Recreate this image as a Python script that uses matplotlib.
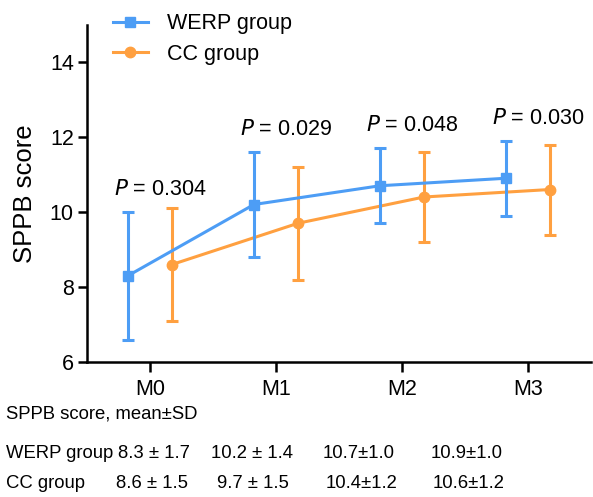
import matplotlib
matplotlib.use("Agg")
import matplotlib.pyplot as plt
import numpy as np
from matplotlib.lines import Line2D

plt.rcParams['font.family'] = ['Liberation Sans', 'DejaVu Sans']

categories = ["M0", "M1", "M2", "M3"]
werp_mean = [8.3, 10.2, 10.7, 10.9]
werp_sd = [1.7, 1.4, 1.0, 1.0]
cc_mean = [8.6, 9.7, 10.4, 10.6]
cc_sd = [1.5, 1.5, 1.2, 1.2]
p_values = ["0.304", "0.029", "0.048", "0.030"]
p_y = [10.6, 12.2, 12.3, 12.5]
werp_labels = ["8.3 ± 1.7", "10.2 ± 1.4", "10.7±1.0", "10.9±1.0"]
cc_labels = ["8.6 ± 1.5", "9.7 ± 1.5", "10.4±1.2", "10.6±1.2"]

blue = "#4D9DF5"
orange = "#FFA040"

fig = plt.figure(figsize=(5.93, 4.97), dpi=100)
ax = fig.add_axes([87/593, 1-362/497, (591-87)/593, (362-24.5)/497])

x = np.arange(len(categories))
off = 0.175
ax.errorbar(x - off, werp_mean, yerr=werp_sd, color=blue, marker='s', markersize=7.5,
            lw=2.2, elinewidth=2.2, capsize=4.2, capthick=2.2, zorder=3)
ax.errorbar(x + off, cc_mean, yerr=cc_sd, color=orange, marker='o', markersize=7.5,
            lw=2.2, elinewidth=2.2, capsize=4.2, capthick=2.2, zorder=2)

for i, (p, py) in enumerate(zip(p_values, p_y)):
    ax.text(i + 0.08, py, r"$\it{P}$" + " = " + p, ha='center', va='center', fontsize=15.5)

ax.set_xlim(-0.5, 3.5)
ax.set_ylim(6, 15)
ax.set_yticks([6, 8, 10, 12, 14])
ax.set_xticks(x)
ax.set_xticklabels(categories)
ax.tick_params(axis='y', labelsize=15.5, width=1.8, length=6.5, pad=3, direction='out')
ax.tick_params(axis='x', labelsize=15.5, width=1.8, length=7, pad=5.5, direction='out')
for s in ['top', 'right']:
    ax.spines[s].set_visible(False)
for s in ['left', 'bottom']:
    ax.spines[s].set_linewidth(1.8)
ax.set_ylabel("SPPB score", fontsize=18.5)
ax.yaxis.set_label_coords(-0.1, 0.5)

handles = [Line2D([], [], color=blue, marker='s', markersize=7.5, lw=2.2),
           Line2D([], [], color=orange, marker='o', markersize=7.5, lw=2.2)]
labels = ["WERP group", "CC group"]
fig.legend(handles, labels, loc='upper left', bbox_to_anchor=(96/593, 1.0 + 4/497), frameon=False,
           fontsize=15.5, handlelength=1.6, handletextpad=0.9, labelspacing=0.45, borderpad=0.3)

fs = 13.3
fig.text(6/593, 1-414/497, "SPPB score, mean±SD", fontsize=fs, va='center')
fig.text(6/593, 1-454/497, "WERP group", fontsize=fs, va='center')
fig.text(6/593, 1-483/497, "CC group", fontsize=fs, va='center')
wx = [154, 252, 359, 467]
cx = [152, 253, 362, 469]
for i in range(4):
    fig.text(wx[i]/593, 1-454/497, werp_labels[i], fontsize=fs, va='center', ha='center')
    fig.text(cx[i]/593, 1-483/497, cc_labels[i], fontsize=fs, va='center', ha='center')

fig.savefig("out.png", dpi=100)
